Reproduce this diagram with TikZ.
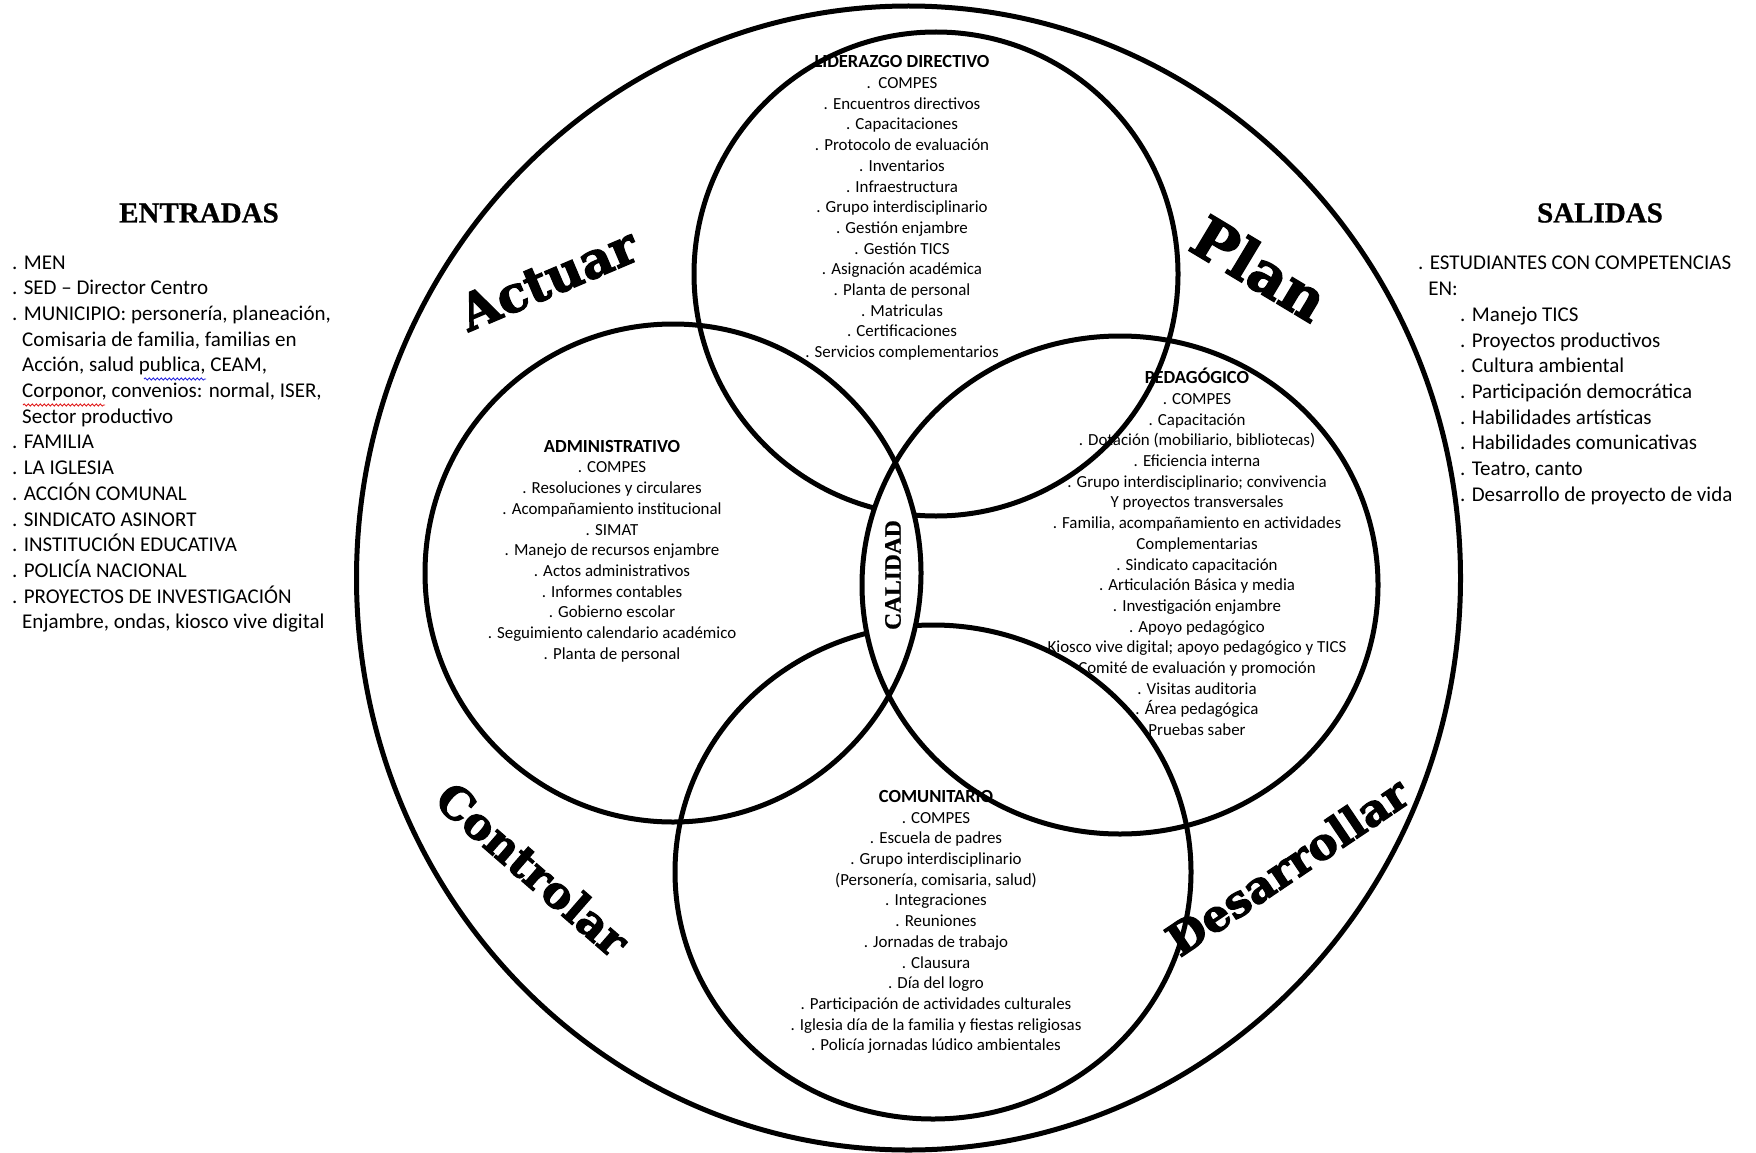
\documentclass[tikz,border=0pt]{standalone}
\usepackage{fontspec}
\setmainfont{Carlito}
\newfontfamily\headfont{Liberation Serif}[BoldFeatures={FakeBold=0.8}]
\newfontfamily\bigfont{DejaVu Serif Bold}[FakeBold=2.5]
\usetikzlibrary{decorations.pathmorphing}
\definecolor{spellred}{RGB}{225,30,30}
\definecolor{spellblue}{RGB}{40,40,225}
\newcommand\ttl[1]{{\bfseries\fontsize{18.5}{20.7}\selectfont #1}}
\begin{document}
\begin{tikzpicture}[x=1pt,y=-1pt,
  ring/.style={line width=5pt, draw=black},
  item/.style={align=center, inner sep=0pt, font=\fontsize{16.9}{20.7}\selectfont},
  side/.style={align=left, inner sep=0pt, anchor=west, font=\fontsize{21}{25.7}\selectfont},
  headline/.style={inner sep=0pt, font=\headfont\bfseries\fontsize{29}{34}\selectfont},
  phase/.style={inner sep=0pt},
  squiggle/.style={line width=0.9pt, decorate, decoration={snake, amplitude=1.1pt, segment length=4pt}}]
\fill[white] (0,0) rectangle (1756,1153);
\useasboundingbox (0,0) rectangle (1756,1153);

% side lists
\node[headline] (entradas) at (199,213) {ENTRADAS};
\node[headline] (salidas) at (1600,213) {SALIDAS};
\node[side] (inlist) at (12,444) {. MEN\\
. SED – Director Centro\\
. MUNICIPIO: personería, planeación,\\
\hphantom{.\ }Comisaria de familia, familias en\\
\hphantom{.\ }Acción, salud publica, CEAM,\\
\hphantom{.\ }Corponor, convenios: normal, ISER,\\
\hphantom{.\ }Sector productivo\\
. FAMILIA\\
. LA IGLESIA\\
. ACCIÓN COMUNAL\\
. SINDICATO ASINORT\\
. INSTITUCIÓN EDUCATIVA\\
. POLICÍA NACIONAL\\
. PROYECTOS DE INVESTIGACIÓN\\
\hphantom{.\ }Enjambre, ondas, kiosco vive digital};
\coordinate (pubL) at (144,379);
\coordinate (pubR) at (206,379);
\coordinate (corL) at (23,405);
\coordinate (corR) at (105,405);
\draw[squiggle, spellblue] (pubL) -- (pubR);
\draw[squiggle, spellred] (corL) -- (corR);
\node[side] (outlist) at (1418,380.5) {. ESTUDIANTES CON COMPETENCIAS\\
\hphantom{.\ }EN:\\
\hspace*{42pt}. Manejo TICS\\
\hspace*{42pt}. Proyectos productivos\\
\hspace*{42pt}. Cultura ambiental\\
\hspace*{42pt}. Participación democrática\\
\hspace*{42pt}. Habilidades artísticas\\
\hspace*{42pt}. Habilidades comunicativas\\
\hspace*{42pt}. Teatro, canto\\
\hspace*{42pt}. Desarrollo de proyecto de vida};

% circle texts
\node[item] (lider) at (902,208) {\ttl{LIDERAZGO DIRECTIVO}\\
.\ \ COMPES\\ . Encuentros directivos\\ . Capacitaciones\\ . Protocolo de evaluación\\
. Inventarios\\ . Infraestructura\\ . Grupo interdisciplinario\\ . Gestión enjambre\\
. Gestión TICS\\ . Asignación académica\\ . Planta de personal\\ . Matriculas\\
. Certificaciones\\ . Servicios complementarios};
\node[item] (admin) at (612,551) {\ttl{ADMINISTRATIVO}\\
. COMPES\\ . Resoluciones y circulares\\ . Acompañamiento institucional\\ . SIMAT\\
. Manejo de recursos enjambre\\ . Actos administrativos\\ . Informes contables\\
. Gobierno escolar\\ . Seguimiento calendario académico\\ . Planta de personal};
\node[item] (pedag) at (1197,552) {\ttl{PEDAGÓGICO}\\
. COMPES\\ . Capacitación\\ . Dotación (mobiliario, bibliotecas)\\ . Eficiencia interna\\
. Grupo interdisciplinario; convivencia\\ Y proyectos transversales\\
. Familia, acompañamiento en actividades\\ Complementarias\\ . Sindicato capacitación\\
. Articulación Básica y media\\ . Investigación enjambre\\ . Apoyo pedagógico\\
Kiosco vive digital; apoyo pedagógico y TICS\\ Comité de evaluación y promoción\\
. Visitas auditoria\\ . Área pedagógica\\ Pruebas saber};
\node[item] (comun) at (936,922) {\ttl{COMUNITARIO}\\
. COMPES\\ . Escuela de padres\\ . Grupo interdisciplinario\\ (Personería, comisaria, salud)\\
. Integraciones\\ . Reuniones\\ . Jornadas de trabajo\\ . Clausura\\ . Día del logro\\
. Participación de actividades culturales\\ . Iglesia día de la familia y fiestas religiosas\\
. Policía jornadas lúdico ambientales};

% cycle words
\node[phase, font=\bigfont\fontsize{50}{56}\selectfont, rotate=23] (actuar) at (548,279) {Actuar};
\node[phase, font=\bigfont\fontsize{58}{64}\selectfont, rotate=-31] (plan) at (1260,268) {Plan};
\node[phase, font=\bigfont\fontsize{44}{50}\selectfont, rotate=-41] (controlar) at (533,869) {Controlar};
\node[phase, font=\bigfont\fontsize{44}{50}\selectfont, rotate=34] (desarrollar) at (1287,866) {Desarrollar};

% rings
\draw[ring] (908.5,578) ellipse [x radius=552pt, y radius=572pt];
\draw[ring] (936,274) ellipse [x radius=242pt, y radius=242pt];
\draw[ring] (933,872) ellipse [x radius=258pt, y radius=247pt];
\begin{scope}
  \clip (673,573) ellipse [x radius=248pt, y radius=249pt];
  \fill[white] (1120,585) ellipse [x radius=258pt, y radius=249pt];
\end{scope}
\draw[ring] (673,573) ellipse [x radius=248pt, y radius=249pt];
\draw[ring] (1120,585) ellipse [x radius=258pt, y radius=249pt];
\node[inner sep=0pt, font=\headfont\bfseries\fontsize{23.5}{28}\selectfont, rotate=90] (calidad) at (893,575) {CALIDAD};
\end{tikzpicture}
\end{document}
